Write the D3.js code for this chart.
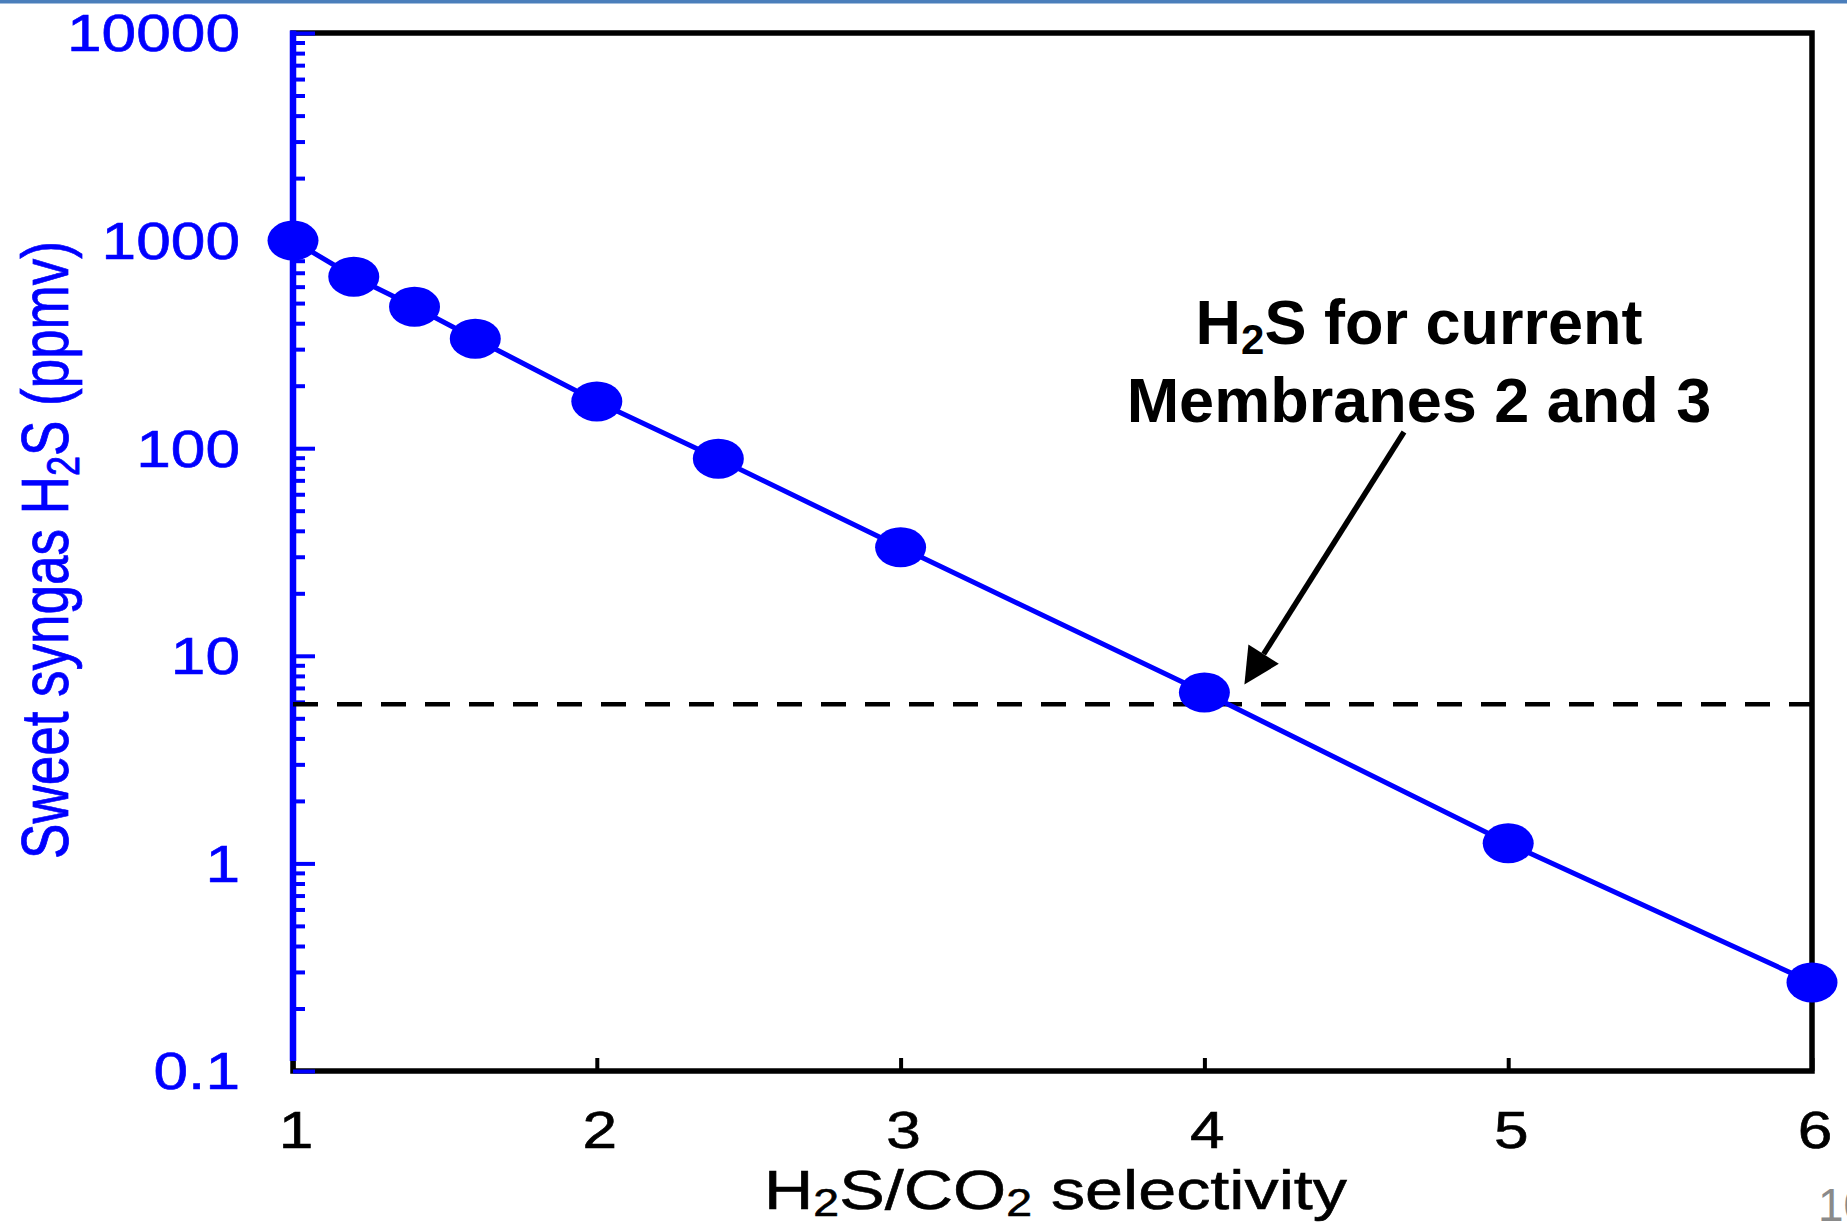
<!DOCTYPE html>
<html>
<head>
<meta charset="utf-8">
<script src="https://cdn.jsdelivr.net/npm/d3@7"></script>
<style>
  html, body { margin: 0; padding: 0; background: #fff; }
  svg { display: block; font-family: "Liberation Sans", Arial, Helvetica, sans-serif; }
</style>
</head>
<body>
<svg id="chart" width="1847" height="1225"></svg>
<script>
// H2S/CO2 selectivity vs. sweet syngas H2S content
const selectivity = [1, 1.2, 1.4, 1.6, 2, 2.4, 3, 4, 5, 6];
const sweetH2S    = [1000, 670, 480, 337, 168, 89, 33.3, 6.65, 1.25, 0.267];
const currentMembraneH2S = 5.85;   // dashed reference level (ppmv)

const xTickValues = [1, 2, 3, 4, 5, 6];
const xTickLabels = ["1", "2", "3", "4", "5", "6"];
const yTickValues = [0.1, 1, 10, 100, 1000, 10000];
const yTickLabels = ["0.1", "1", "10", "100", "1000", "10000"];

const W = 1847, H = 1225;
const plot = { left: 293, right: 1812, top: 33, bottom: 1071 };
const SX = 1.22;           // horizontal stretch of the chart's lettering
const BLUE = "#0000ff";

const svg = d3.select("#chart");

const x = d3.scaleLinear().domain([1, 6]).range([plot.left, plot.right]);
const y = d3.scaleLog().domain([0.1, 10000]).range([plot.bottom, plot.top]);

// slide accent bar
svg.append("rect").attr("x", 0).attr("y", 0).attr("width", W).attr("height", 3.5)
  .attr("fill", "#4a7ebb");

// black frame (top, right, bottom)
svg.append("rect")
  .attr("x", plot.left).attr("y", plot.top)
  .attr("width", plot.right - plot.left).attr("height", plot.bottom - plot.top)
  .attr("fill", "none").attr("stroke", "#000").attr("stroke-width", 5.5);

// x ticks pointing inward
const xAxis = d3.axisTop(x).tickValues(xTickValues).tickSize(13).tickFormat("");
const gx = svg.append("g").attr("transform", `translate(0,${plot.bottom})`).call(xAxis);
gx.select(".domain").remove();
gx.selectAll(".tick line").attr("stroke", "#000").attr("stroke-width", 4);

// blue y axis with minor and major log ticks
const minorTicks = y.ticks().filter(v => !yTickValues.some(t => Math.abs(t - v) / t < 1e-9));
const gyMinor = svg.append("g").attr("transform", `translate(${plot.left},0)`)
  .call(d3.axisRight(y).tickValues(minorTicks).tickSize(12).tickFormat(""));
const gyMajor = svg.append("g").attr("transform", `translate(${plot.left},0)`)
  .call(d3.axisRight(y).tickValues(yTickValues).tickSize(22).tickFormat(""));
[gyMinor, gyMajor].forEach(g => {
  g.select(".domain").remove();
  g.selectAll(".tick line").attr("stroke", BLUE).attr("stroke-width", 4);
});
svg.append("line")
  .attr("x1", plot.left).attr("x2", plot.left)
  .attr("y1", plot.top - 2.5).attr("y2", plot.bottom - 10)
  .attr("stroke", BLUE).attr("stroke-width", 6.5);

// y tick labels
svg.append("g").selectAll("text").data(yTickValues).join("text")
  .attr("transform", d => `translate(240,${y(d)}) scale(${SX},1)`)
  .attr("dy", "0.36em")
  .attr("text-anchor", "end")
  .attr("font-size", 51)
  .attr("fill", BLUE).attr("stroke", BLUE).attr("stroke-width", 0.6)
  .text((d, i) => yTickLabels[i]);

// x tick labels
svg.append("g").selectAll("text").data(xTickValues).join("text")
  .attr("transform", d => `translate(${x(d) + 3},1148) scale(${SX},1)`)
  .attr("text-anchor", "middle")
  .attr("font-size", 51)
  .attr("fill", "#000").attr("stroke", "#000").attr("stroke-width", 0.6)
  .text((d, i) => xTickLabels[i]);

// x axis title
const xt = svg.append("text")
  .attr("transform", `translate(${(plot.left + plot.right) / 2 + 3},1209) scale(${SX},1)`)
  .attr("text-anchor", "middle").attr("font-size", 56)
  .attr("fill", "#000").attr("stroke", "#000").attr("stroke-width", 0.6);
xt.append("tspan").text("H");
xt.append("tspan").attr("font-size", 38).attr("dy", 7).text("2");
xt.append("tspan").attr("dy", -7).text("S/CO");
xt.append("tspan").attr("font-size", 38).attr("dy", 7).text("2");
xt.append("tspan").attr("dy", -7).text(" selectivity");

// y axis title
const yt = svg.append("text")
  .attr("transform", `translate(68,550) scale(${SX + 0.05},1) rotate(-90)`)
  .attr("text-anchor", "middle").attr("font-size", 53)
  .attr("fill", BLUE).attr("stroke", BLUE).attr("stroke-width", 0.6);
yt.append("tspan").text("Sweet syngas H");
yt.append("tspan").attr("font-size", 36).attr("dy", 9).text("2");
yt.append("tspan").attr("dy", -9).text("S (ppmv)");

// dashed reference level
svg.append("line")
  .attr("x1", plot.left).attr("x2", plot.right)
  .attr("y1", y(currentMembraneH2S)).attr("y2", y(currentMembraneH2S))
  .attr("stroke", "#000").attr("stroke-width", 4.5)
  .attr("stroke-dasharray", "25,19");

// data line and markers
const pts = selectivity.map((s, i) => [s, sweetH2S[i]]);
svg.append("path").datum(pts)
  .attr("d", d3.line().x(d => x(d[0])).y(d => y(d[1])))
  .attr("fill", "none").attr("stroke", BLUE).attr("stroke-width", 5);
svg.append("g").selectAll("ellipse").data(pts).join("ellipse")
  .attr("cx", d => x(d[0])).attr("cy", d => y(d[1]))
  .attr("rx", 25.5).attr("ry", 20)
  .attr("fill", BLUE);

// annotation
const annX = 1419;
const a1 = svg.append("text").attr("x", annX).attr("y", 344)
  .attr("text-anchor", "middle").attr("font-size", 63).attr("font-weight", "bold").attr("fill", "#000");
a1.append("tspan").text("H");
a1.append("tspan").attr("font-size", 42).attr("dy", 10).text("2");
a1.append("tspan").attr("dy", -10).text("S for current");
svg.append("text").attr("x", annX).attr("y", 422)
  .attr("text-anchor", "middle").attr("font-size", 63).attr("font-weight", "bold").attr("fill", "#000")
  .text("Membranes 2 and 3");

// arrow toward the selectivity-4 point
const target = pts[selectivity.indexOf(4)];
const tip = [x(target[0]) + 40, y(target[1]) - 8];
const start = [1404, 432];
const ang = Math.atan2(tip[1] - start[1], tip[0] - start[0]);
const headLen = 36, headHalf = 18;
const base = [tip[0] - headLen * Math.cos(ang), tip[1] - headLen * Math.sin(ang)];
svg.append("line")
  .attr("x1", start[0]).attr("y1", start[1])
  .attr("x2", base[0]).attr("y2", base[1])
  .attr("stroke", "#000").attr("stroke-width", 5.5);
const px = -Math.sin(ang), py = Math.cos(ang);
svg.append("polygon")
  .attr("points", [
    tip,
    [base[0] + px * headHalf, base[1] + py * headHalf],
    [base[0] - px * headHalf, base[1] - py * headHalf]
  ].map(p => p.join(",")).join(" "))
  .attr("fill", "#000");

// slide number
svg.append("text").attr("x", 1818).attr("y", 1221)
  .attr("font-size", 46).attr("fill", "#8a8a8a").text("10");
</script>
</body>
</html>
